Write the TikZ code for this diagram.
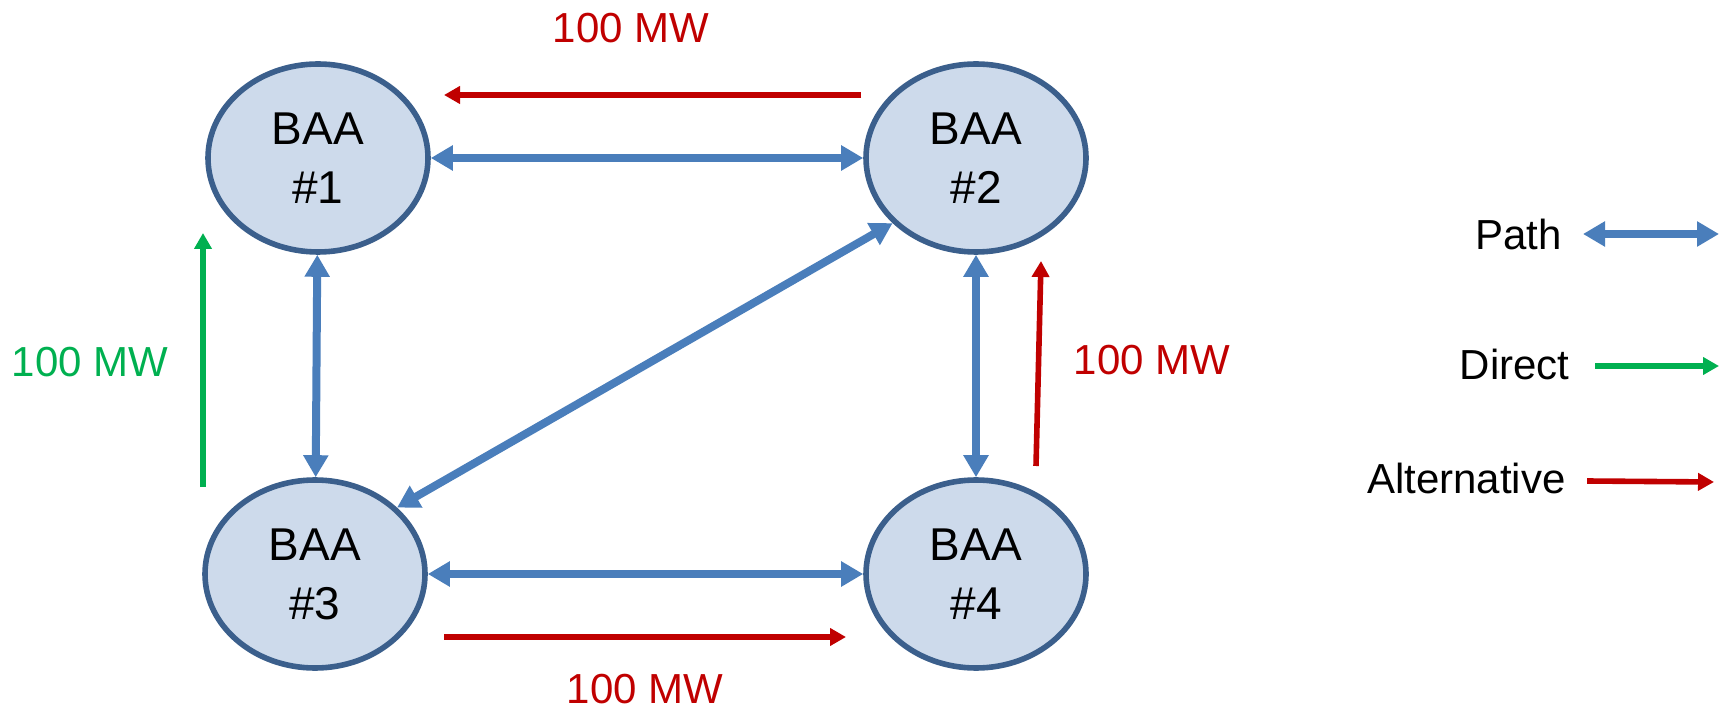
\documentclass[tikz,border=0pt]{standalone}
\usepackage{fontspec}
\setmainfont{Liberation Sans}
\usetikzlibrary{arrows.meta, shapes.geometric, positioning}
\usepackage{xcolor}

\definecolor{baafill}{HTML}{CDDAEB}
\definecolor{baaline}{HTML}{3B5F8C}
\definecolor{pathblue}{HTML}{4A7EBB}
\definecolor{directgreen}{HTML}{00B050}
\definecolor{altred}{HTML}{C00000}

\tikzset{
  baa/.style={ellipse, draw=baaline, fill=baafill, line width=2.8pt,
    minimum width=110pt, minimum height=94pt, inner sep=0pt,
    align=center, font=\fontsize{23}{29.5}\selectfont},
  patharrow/.style={draw=pathblue, line width=4pt,
    {Triangle[width=12pt,length=11pt]}-{Triangle[width=12pt,length=11pt]}},
  directarrow/.style={draw=directgreen, line width=2.6pt,
    -{Triangle[width=8.5pt,length=8pt]}},
  altarrow/.style={draw=altred, line width=2.8pt,
    -{Triangle[width=8.5pt,length=8pt]}},
  mwlabel/.style={inner sep=0pt, font=\fontsize{21}{25}\selectfont},
  legendlabel/.style={anchor=east, inner sep=0pt, font=\fontsize{21}{25}\selectfont}
}

\begin{document}
\begin{tikzpicture}[x=0.5pt, y=-0.5pt]
  \useasboundingbox (0,0) rectangle (1727,710);

  % balancing areas
  \node[baa] (baa1) at (318,158) {BAA\\\#1};
  \node[baa] (baa2) at (976,158) {BAA\\\#2};
  \node[baa] (baa3) at (315,574) {BAA\\\#3};
  \node[baa] (baa4) at (976,574) {BAA\\\#4};

  % paths between areas
  \draw[patharrow] (baa1) -- (baa2);
  \draw[patharrow] (baa1) -- (baa3);
  \draw[patharrow] (baa2) -- (baa4);
  \draw[patharrow] (baa3) -- (baa4);
  \draw[patharrow] (baa3.39) -- (baa2.218);

  % direct flow 3 -> 1
  \coordinate (dir31s) at (203,487);
  \coordinate (dir31e) at (203,233);
  \draw[directarrow] (dir31s) -- (dir31e);
  \node[mwlabel, text=directgreen] (dir31lbl) at (90,362) {100 MW};

  % alternative flow 3 -> 4 -> 2 -> 1
  \coordinate (alt34s) at (444,637);
  \coordinate (alt34e) at (846,637);
  \draw[altarrow] (alt34s) -- (alt34e);
  \node[mwlabel, text=altred] (alt34lbl) at (645,689) {100 MW};

  \coordinate (alt42s) at (1036,466);
  \coordinate (alt42e) at (1041,261);
  \draw[altarrow] (alt42s) -- (alt42e);
  \node[mwlabel, text=altred] (alt42lbl) at (1152,360) {100 MW};

  \coordinate (alt21s) at (861,95);
  \coordinate (alt21e) at (444,95);
  \draw[altarrow] (alt21s) -- (alt21e);
  \node[mwlabel, text=altred] (alt21lbl) at (631,28) {100 MW};

  % legend
  \node[legendlabel] (legpath) at (1562,234) {Path};
  \coordinate (legpaths) at (1583,234);
  \coordinate (legpathe) at (1719,234);
  \draw[patharrow] (legpaths) -- (legpathe);

  \node[legendlabel] (legdir) at (1570,364) {Direct};
  \coordinate (legdirs) at (1595,366);
  \coordinate (legdire) at (1719,366);
  \draw[directarrow] (legdirs) -- (legdire);

  \node[legendlabel] (legalt) at (1566,478) {Alternative};
  \coordinate (legalts) at (1587,481);
  \coordinate (legalte) at (1714,482);
  \draw[altarrow] (legalts) -- (legalte);
\end{tikzpicture}
\end{document}
